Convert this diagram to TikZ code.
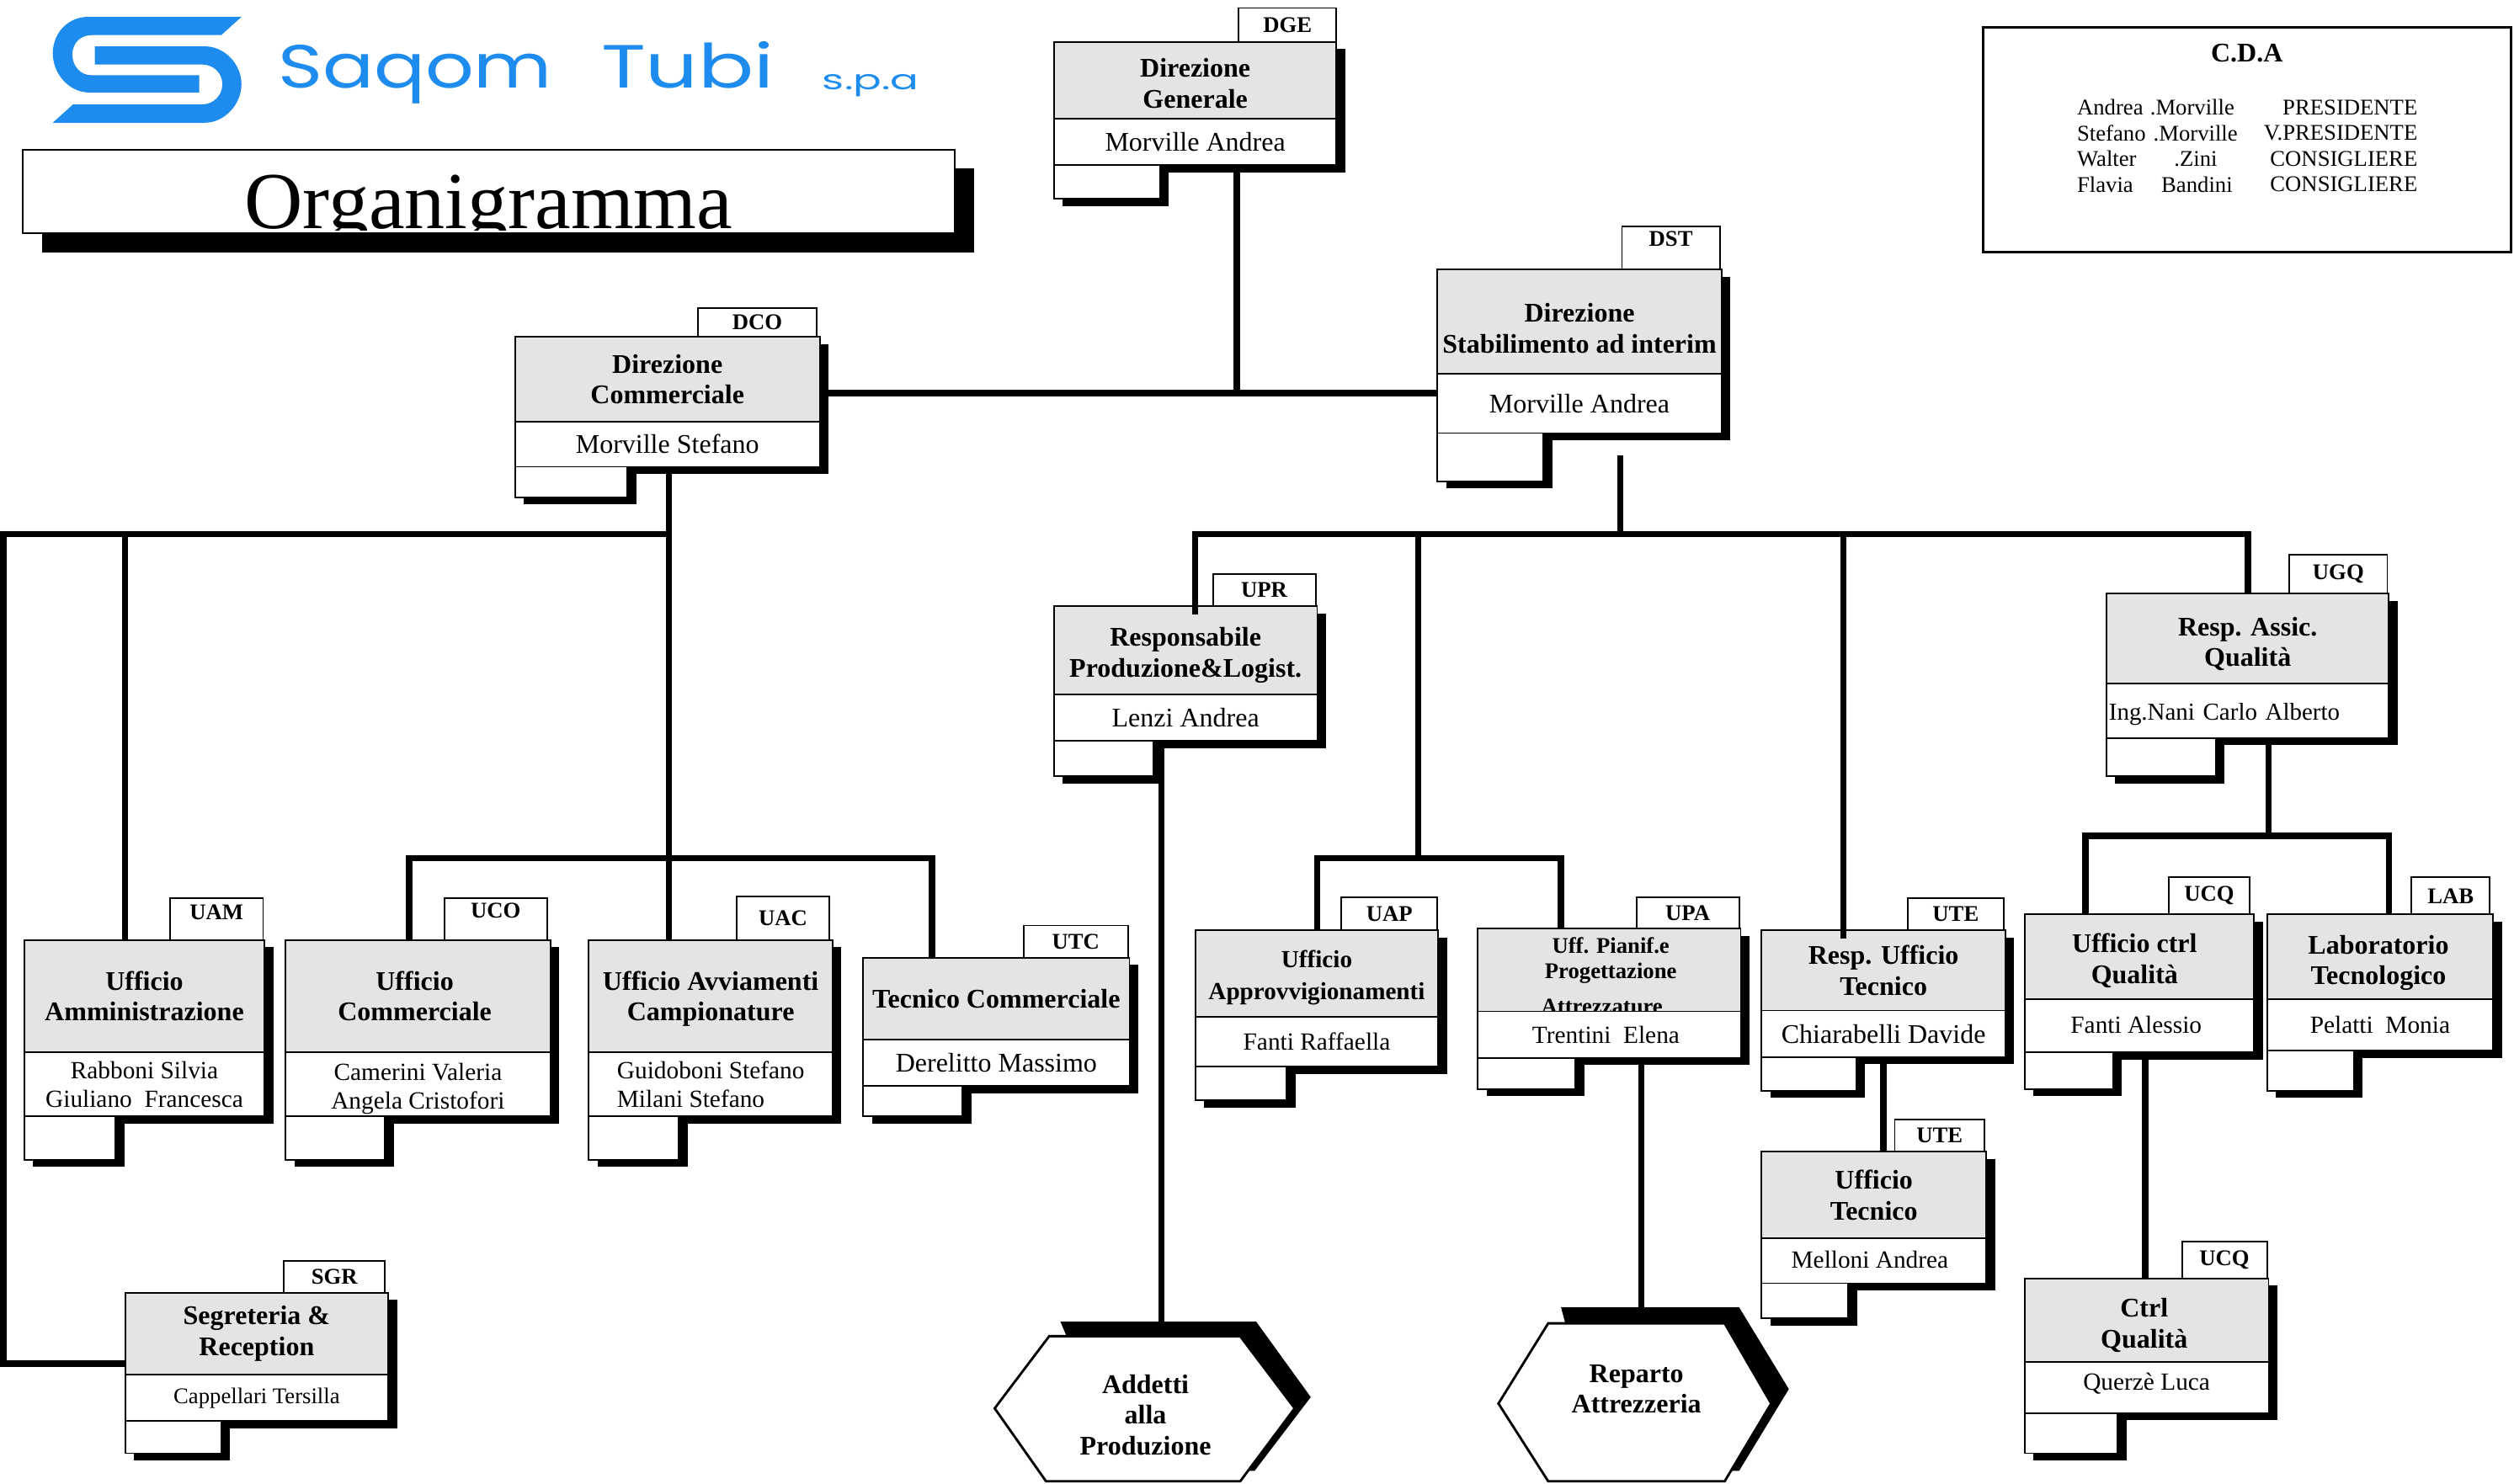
\documentclass[tikz,border=0pt]{standalone}
\usepackage{graphicx}
\usepackage{fontspec}
\setmainfont{Liberation Serif}
\newfontfamily\logofont{Poppins}
\usetikzlibrary{shadows}
\definecolor{logoblue}{HTML}{1E8CEE}
\definecolor{headgray}{HTML}{E4E4E4}
\newcommand\bigfont{\fontsize{16.8}{19.2}\selectfont}
\newcommand\midfont{\fontsize{15.4}{18}\selectfont}
\newcommand\tagfont{\fontsize{14}{16}\selectfont\bfseries}
\newcommand\moved[3]{\hspace*{#1}\raisebox{#2}[\height][\depth]{\begin{tabular}{@{}c@{}}#3\end{tabular}}}
\tikzset{
  blackshadow/.style={general shadow={fill=black,shadow xshift=5.5pt,shadow yshift=-4.5pt}},
  sized/.style 2 args={minimum width=#1pt,minimum height=#2pt},
  cell/.style={draw,line width=1pt,anchor=north west,inner sep=0pt,outer sep=0pt,align=center},
  headbox/.style={cell,fill=headgray,blackshadow,font=\bigfont\bfseries},
  namebox/.style={cell,fill=white,blackshadow,font=\bigfont},
  sparebox/.style={cell,fill=white,blackshadow},
  tagbox/.style={cell,fill=white,font=\tagfont},
  wire/.style={line width=4pt,black},
  hexline/.style={draw,fill=white,line width=1.5pt},
  hextext/.style={align=center,inner sep=0pt,font=\bigfont\bfseries},
  cdatext/.style={inner sep=0pt,font=\fontsize{14}{16}\selectfont},
  logotext/.style={anchor=base west,inner sep=0pt,text=logoblue},
}
\begin{document}
\begin{tikzpicture}[x=1pt,y=-1pt]
\useasboundingbox (0,0) rectangle (1567,924.7);

\fill[logoblue] (150.5,10.5) -- (55,10.5) .. controls (42,10.5) and (32.9,21) .. (32.9,33.2) .. controls (32.9,46) and (43,57.7) .. (56,57.7) -- (124.2,57.7) -- (124.2,46.9) -- (56.9,46.9) .. controls (50,46.9) and (45.1,41) .. (45.1,34.1) .. controls (45.1,27) and (50,21.9) .. (56.9,21.9) -- (137.9,21.9) -- cycle;
\fill[logoblue] (32.9,76.5) -- (45.5,65.1) -- (126,65.1) .. controls (133,65.1) and (138.6,59.5) .. (138.6,52.5) .. controls (138.6,45.5) and (133,40.2) .. (126,40.2) -- (59.1,40.2) -- (59.1,28.9) -- (127.7,28.9) .. controls (140,28.9) and (150.5,40) .. (150.5,52.5) .. controls (150.5,65) and (140,76.5) .. (127.7,76.5) -- cycle;
\node[logotext] (saqom) at (173,54.6) {\resizebox{171pt}{\height}{\logofont\fontsize{38}{38}\selectfont Saqom}};
\node[logotext] (tubi) at (374.5,55) {\resizebox{108pt}{\height}{\logofont\fontsize{38}{38}\selectfont Tubi}};
\node[logotext] (spa) at (512.5,55.7) {\resizebox{60pt}{\height}{\logofont\fontsize{17}{17}\selectfont s.p.a}};

\node[cell,fill=white,sized={581}{52},general shadow={fill=black,shadow xshift=12pt,shadow yshift=-12pt}] (title) at (14,93.2) {};
\begin{scope}
\clip (14,93.2) rectangle (595,143.6);
\node[anchor=base,inner sep=0pt,font=\fontsize{50.4}{52}\selectfont] (titletext) at (304.5,142.4) {Organigramma};
\end{scope}

\node[cell,line width=1.4pt,sized={329}{140}] (cda) at (1236,17) {};
\node[cdatext,font=\bigfont\bfseries] (cdahead) at (1400.5,33) {C.D.A};
\foreach \y/\first/\xlast/\last/\role [count=\i] in {67/Andrea/1340/.Morville/PRESIDENTE,83/Stefano/1342/.Morville/V.PRESIDENTE,99/Walter/1355/.Zini/CONSIGLIERE,115/Flavia/1347/Bandini/CONSIGLIERE}{
  \node[cdatext,anchor=west] (cdafirst\i) at (1294.5,\y) {\first};
  \node[cdatext,anchor=west] (cdalast\i) at (\xlast,\y) {\last};
  \node[cdatext,anchor=east] (cdarole\i) at (1507,\y) {\role};
}

\fill[black] (661,824) -- (783,824) -- (817,871) -- (782,917) -- (700,917) -- cycle;
\draw[hexline] (654,833) -- (773,833) -- (807,878) -- (773,923.5) -- (652,923.5) -- (620,878) -- cycle;
\node[hextext] (addetti) at (714,882) {Addetti\\alla\\Produzione};
\fill[black] (973,815) -- (1084,815) -- (1115,866) -- (1084,917) -- (1000,917) -- cycle;
\draw[hexline] (965,825) -- (1075,825) -- (1104,875) -- (1075,923.5) -- (965,923.5) -- (934,875) -- cycle;
\node[hextext] (reparto) at (1020,866) {Reparto\\Attrezzeria};

\node[tagbox,sized={61}{21}] (dgetag) at (772,5) {DGE};
\node[headbox,sized={176}{48}] (dge) at (657,26) {\moved{0pt}{-4pt}{Direzione\\Generale}};
\node[namebox,sized={176}{29}] (dgename) at (657,74) {Morville Andrea};
\node[sparebox,sized={66}{21}] (dgespare) at (657,103) {};

\node[tagbox,sized={61}{27}] (dsttag) at (1011,141) {\moved{0pt}{4pt}{DST}};
\node[headbox,sized={177}{65}] (dst) at (896,168) {\moved{0pt}{-6pt}{Direzione\\Stabilimento ad interim}};
\node[namebox,sized={177}{37}] (dstname) at (896,233) {Morville Andrea};
\node[sparebox,sized={66}{30}] (dstspare) at (896,270) {};

\node[tagbox,sized={74}{18}] (dcotag) at (435,192) {DCO};
\node[headbox,sized={190}{53}] (dco) at (321,210) {Direzione\\Commerciale};
\node[namebox,sized={190}{28}] (dconame) at (321,263) {Morville Stefano};
\node[sparebox,sized={70}{19}] (dcospare) at (321,291) {};

\node[tagbox,sized={64}{20}] (uprtag) at (756,358) {UPR};
\node[headbox,sized={164}{55}] (upr) at (657,378) {\moved{0pt}{-3pt}{Responsabile\\Produzione\&Logist.}};
\node[namebox,sized={164}{29}] (uprname) at (657,433) {Lenzi Andrea};
\node[sparebox,sized={62}{22}] (uprspare) at (657,462) {};

\node[tagbox,sized={61}{24}] (ugqtag) at (1427,346) {UGQ};
\node[headbox,sized={176}{56}] (ugq) at (1313,370) {\moved{0pt}{-4pt}{Resp. Assic.\\Qualità}};
\node[namebox,sized={176}{34},font=\fontsize{15.2}{18}\selectfont,align=left,text width=173pt] (ugqname) at (1313,426) {\raisebox{-2.5pt}[\height][\depth]{Ing.Nani Carlo Alberto}};
\node[sparebox,sized={68}{24}] (ugqspare) at (1313,460) {};

\node[tagbox,sized={58}{26}] (uamtag) at (106,560) {\moved{0pt}{3pt}{UAM}};
\node[headbox,sized={150}{70}] (uam) at (15,586) {Ufficio\\Amministrazione};
\node[namebox,sized={150}{40},font=\midfont] (uamname) at (15,656) {Rabboni Silvia\\Giuliano\ \ Francesca};
\node[sparebox,sized={57}{27}] (uamspare) at (15,696) {};

\node[tagbox,sized={64}{26}] (ucotag) at (277,560) {\moved{0pt}{4pt}{UCO}};
\node[headbox,sized={165}{70}] (uco) at (178,586) {\moved{-4pt}{-2pt}{Ufficio\\Commerciale}};
\node[namebox,sized={165}{40},font=\midfont] (uconame) at (178,656) {\moved{0pt}{-3pt}{Camerini Valeria\\Angela Cristofori}};
\node[sparebox,sized={62}{27}] (ucospare) at (178,696) {};

\node[tagbox,sized={58}{27}] (uactag) at (459,559) {UAC};
\node[headbox,sized={152}{70}] (uac) at (367,586) {\moved{0pt}{-2pt}{Ufficio Avviamenti\\Campionature}};
\node[namebox,sized={152}{40},font=\midfont,align=left] (uacname) at (367,656) {Guidoboni Stefano\\Milani Stefano};
\node[sparebox,sized={56}{27}] (uacspare) at (367,696) {};

\node[tagbox,sized={65}{20}] (utctag) at (638,577) {UTC};
\node[headbox,sized={166}{51}] (utc) at (538,597) {Tecnico Commerciale};
\node[namebox,sized={166}{29}] (utcname) at (538,648) {Derelitto Massimo};
\node[sparebox,sized={62}{19}] (utcspare) at (538,677) {};

\node[tagbox,sized={60}{20.5}] (uaptag) at (836,559.5) {UAP};
\node[headbox,sized={151.5}{54},font=\fontsize{15.3}{20}\selectfont\bfseries] (uap) at (745,580) {\moved{0pt}{-2pt}{Ufficio\\Approvvigionamenti}};
\node[namebox,sized={151.5}{31},font=\midfont] (uapname) at (745,634) {Fanti Raffaella};
\node[sparebox,sized={57}{21}] (uapspare) at (745,665) {};

\node[tagbox,sized={64}{19.5}] (upatag) at (1020,559.5) {UPA};
\node[headbox,sized={164}{51.5}] (upa) at (921,579) {};
\node[anchor=north,inner sep=0pt,align=center,font=\fontsize{14}{16}\selectfont\bfseries] (upatitle) at (1004,584) {Uff. Pianif.e\\Progettazione\\[6pt]\hspace*{-11pt}Attrezzature};
\node[namebox,sized={164}{29},font=\midfont] (upaname) at (921,630.5) {\moved{-4pt}{-2pt}{Trentini\ \ Elena}};
\node[sparebox,sized={61}{19.5}] (upaspare) at (921,659.5) {};

\node[tagbox,sized={60}{20}] (utetag) at (1189,560) {UTE};
\node[headbox,sized={152}{50}] (ute) at (1098,580) {Resp. Ufficio\\Tecnico};
\node[namebox,sized={152}{29}] (utename) at (1098,630) {Chiarabelli Davide};
\node[sparebox,sized={59}{21}] (utespare) at (1098,659) {};

\node[tagbox,sized={56}{20}] (utbtag) at (1181,698) {UTE};
\node[headbox,sized={140}{54}] (utb) at (1098,718) {Ufficio\\Tecnico};
\node[namebox,sized={140}{28},font=\midfont] (utbname) at (1098,772) {\moved{-5pt}{-1pt}{Melloni Andrea}};
\node[sparebox,sized={54}{22}] (utbspare) at (1098,800) {};

\node[tagbox,sized={50}{23}] (ucqtag) at (1352,547) {UCQ};
\node[headbox,sized={143}{53}] (ucq) at (1262,570) {\moved{-6pt}{-3pt}{Ufficio ctrl\\Qualità}};
\node[namebox,sized={143}{33},font=\midfont] (ucqname) at (1262,623) {\moved{-4pt}{-1pt}{Fanti Alessio}};
\node[sparebox,sized={55}{23}] (ucqspare) at (1262,656) {};

\node[tagbox,sized={49}{23}] (labtag) at (1503,547) {LAB};
\node[headbox,sized={141}{53}] (lab) at (1413,570) {\moved{-2pt}{-4pt}{Laboratorio\\Tecnologico}};
\node[namebox,sized={141}{32},font=\midfont] (labname) at (1413,623) {Pelatti\ \ Monia};
\node[sparebox,sized={54}{25}] (labspare) at (1413,655) {};

\node[tagbox,sized={53}{23}] (ucbtag) at (1360,774) {UCQ};
\node[headbox,sized={152}{52}] (ucb) at (1262,797) {\moved{-3pt}{-4pt}{Ctrl\\Qualità}};
\node[namebox,sized={152}{32},font=\midfont] (ucbname) at (1262,849) {\moved{0pt}{2pt}{Querzè Luca}};
\node[sparebox,sized={58}{25}] (ucbspare) at (1262,881) {};

\node[tagbox,sized={63}{20}] (sgrtag) at (177,786) {SGR};
\node[headbox,sized={164}{51}] (sgr) at (78,806) {Segreteria \&\\Reception};
\node[namebox,sized={164}{29},font=\fontsize{14}{16}\selectfont] (sgrname) at (78,857) {Cappellari Tersilla};
\node[sparebox,sized={60}{20}] (sgrspare) at (78,886) {};

\coordinate (topjoin) at (771,245);
\coordinate (dcojoin) at (417,333);
\coordinate (uamjoin) at (78,333);
\coordinate (leftrail) at (2,333);
\coordinate (sgrjoin) at (78,850);
\coordinate (dcolow) at (417,535);
\coordinate (dstfoot) at (1010,284);
\coordinate (dstjoin) at (1010,333);
\coordinate (uaptop) at (884,535);
\coordinate (ugqjoin) at (1414,521);
\coordinate (addettitop) at (724,824);
\coordinate (repartotop) at (1023,815);

\draw[wire] (topjoin |- dgename.south) -- (topjoin);
\draw[wire] (dco.east |- topjoin) -- (dst.west |- topjoin);

\draw[wire] (dcojoin |- dconame.south) -- (dcojoin |- uac.north);
\draw[wire] (dcojoin) -- (leftrail) |- (sgrjoin);
\draw[wire] (uamjoin) -- (uamjoin |- uam.north);
\draw[wire] (uco.north -| 255,0) |- (dcolow) -| (utc.north -| 581,0);

\draw[wire] (dstfoot) -- (dstjoin);
\draw[wire] (upr.north -| 745,0) ++(0,5) |- (dstjoin) -| (ugq.north -| 1401,0);
\draw[wire] (dstjoin -| uaptop) -- (uaptop);
\draw[wire] (uap.north -| 821,0) |- (uaptop) -| (upa.north -| 973,0);
\draw[wire] (dstjoin -| 1149,0) -- (ute.north -| 1149,0) -- ++(0,5);

\draw[wire] (addettitop |- uprname.south) -- (addettitop);
\draw[wire] (repartotop |- upaname.south) -- (repartotop);
\draw[wire] (utename.south -| 1174,0) -- (utb.north -| 1174,0);

\draw[wire] (ugqjoin |- ugqname.south) -- (ugqjoin);
\draw[wire] (ucq.north -| 1300,0) |- (ugqjoin) -| (lab.north -| 1489,0);
\draw[wire] (ucqname.south -| 1337,0) -- (ucb.north -| 1337,0);
\end{tikzpicture}
\end{document}
